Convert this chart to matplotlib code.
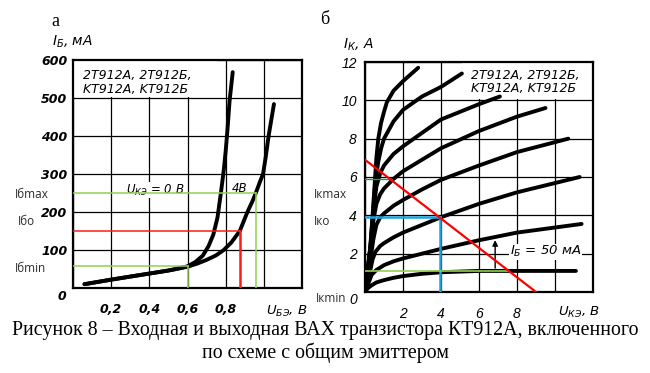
import numpy as np
import matplotlib
matplotlib.use('Agg')
import matplotlib.pyplot as plt
from matplotlib.patches import Rectangle

plt.rcParams['mathtext.fontset'] = 'custom'
plt.rcParams['mathtext.rm'] = 'DejaVu Sans:italic'
plt.rcParams['mathtext.it'] = 'DejaVu Sans:italic'
plt.rcParams['mathtext.bf'] = 'DejaVu Sans:italic:bold'

# --- входная характеристика (а): I_Б, мА от U_БЭ, В
u_be_0 = [0.06, 0.2, 0.3, 0.4, 0.5, 0.55, 0.6, 0.64, 0.68, 0.71, 0.735, 0.757, 0.775, 0.79, 0.8, 0.81, 0.82, 0.837]
i_b_0 = [10, 22, 30, 38, 46, 51, 57, 68, 85, 110, 140, 185, 250, 310, 360, 420, 490, 568]
u_be_4 = [0.06, 0.2, 0.3, 0.4, 0.5, 0.6, 0.65, 0.7, 0.75, 0.79, 0.83, 0.874, 0.914, 0.94, 0.958, 0.98,
          0.996, 1.01, 1.025, 1.04, 1.053]
i_b_4 = [10, 22, 30, 38, 46, 56, 64, 74, 86, 100, 120, 150, 200, 228, 250, 280, 300, 345, 400, 445, 484]

# рабочая точка и границы на входной ВАХ
ib_max, ib_0, ib_min = 250, 150, 57
ube_max, ube_0, ube_min = 0.958, 0.874, 0.6

# --- выходные характеристики (б): I_К, А от U_КЭ, В
out_u = [
    [0, 0.15, 0.35, 0.6, 1, 1.5, 2, 3, 4, 6, 11.1],
    [0, 0.2, 0.35, 0.6, 1, 1.5, 2, 3, 4, 6, 8, 11.4],
    [0, 0.25, 0.4, 0.55, 0.8, 1, 1.5, 2, 3, 4, 6, 8, 11.3],
    [0, 0.3, 0.45, 0.6, 0.8, 1, 1.5, 2, 3, 4, 6, 8, 10.7],
    [0, 0.3, 0.45, 0.6, 0.8, 1, 1.5, 2, 3, 4, 6, 8, 9.5],
    [0, 0.3, 0.45, 0.6, 0.8, 1, 1.5, 2, 3, 4, 5, 6, 7.1],
    [0, 0.3, 0.45, 0.55, 0.7, 0.85, 1, 1.5, 2, 3, 4, 5.1],
    [0, 0.25, 0.4, 0.5, 0.6, 0.7, 0.84, 1.0, 1.15, 1.5, 2, 2.8],
]
out_i = [
    [0, 0.2, 0.35, 0.5, 0.62, 0.74, 0.83, 0.95, 1.03, 1.1, 1.1],
    [0, 0.5, 0.9, 1.15, 1.4, 1.6, 1.75, 2.0, 2.25, 2.7, 3.1, 3.55],
    [0, 1.0, 1.7, 2.1, 2.4, 2.55, 2.85, 3.1, 3.5, 3.9, 4.6, 5.2, 6.0],
    [0, 1.8, 2.8, 3.5, 3.9, 4.1, 4.5, 4.8, 5.35, 5.85, 6.6, 7.3, 8.0],
    [0, 2.2, 3.8, 4.6, 5.1, 5.4, 5.9, 6.3, 6.9, 7.5, 8.4, 9.15, 9.6],
    [0, 2.5, 4.3, 5.5, 6.2, 6.6, 7.2, 7.6, 8.3, 9.0, 9.4, 9.8, 10.2],
    [0, 2.5, 4.5, 5.8, 6.8, 7.5, 8.0, 8.9, 9.5, 10.2, 10.7, 11.4],
    [0, 2.0, 4.0, 5.5, 7.0, 8.0, 8.8, 9.4, 9.9, 10.5, 11.0, 11.7],
]

# нагрузочная прямая и рабочая точка
load_u = [0, 9.0]
load_i = [6.9, 0]
uk_0, ik_0 = 3.95, 3.9
ik_max, uk_at_max = 5.9, 1.4
ik_min, uk_at_min = 1.1, 7.5

fig = plt.figure(figsize=(6.5, 3.73), dpi=100)
W, H = 650, 373


def rect(x0, y0, x1, y1):
    return [x0 / W, 1 - y1 / H, (x1 - x0) / W, (y1 - y0) / H]


tick_font = dict(family='DejaVu Sans', style='italic', weight='bold', size=9)
note_font = dict(family='Open Sans', size=8.5, color='#2b2b2b')
box_font = dict(family='DejaVu Sans', style='italic', size=9)

# ================= а =================
ax1 = fig.add_axes(rect(73, 60, 302, 288))
ax1.set_xlim(0, 1.2)
ax1.set_ylim(0, 600)
ax1.set_xticks([0, 0.2, 0.4, 0.6, 0.8, 1.0, 1.2])
ax1.set_yticks([0, 100, 200, 300, 400, 500, 600])
ax1.set_xticklabels(['', '0,2', '0,4', '0,6', '0,8', '', ''], fontdict=tick_font)
ax1.set_yticklabels(['', '100', '200', '300', '400', '500', '600'], fontdict=tick_font)
ax1.tick_params(length=0)
ax1.tick_params(axis='x', pad=11)
ax1.tick_params(axis='y', pad=4)
ax1.grid(True, color='black', lw=0.9)
ax1.set_axisbelow(True)
for s in ax1.spines.values():
    s.set_linewidth(1.6)

ax1.add_patch(Rectangle((0.004, 503), 0.75, 95, facecolor='white', edgecolor='none', zorder=1))
ax1.text(0.05, 575, '2T912A, 2T912Б,\nKT912A, KT912Б', fontdict=box_font,
         va='top', ha='left', linespacing=1.05, zorder=2)

ax1.plot(u_be_0, i_b_0, color='black', lw=2.8, solid_capstyle='round', zorder=3)
ax1.plot(u_be_4, i_b_4, color='black', lw=2.8, solid_capstyle='round', zorder=3)

ax1.text(0.43, 258, r'$U_{КЭ}$ = 0 В', fontdict=dict(family='DejaVu Sans', style='italic', size=8.5),
         ha='center', va='center', zorder=2,
         bbox=dict(facecolor='white', edgecolor='none', pad=0.5))
ax1.text(0.875, 262, '4В', fontdict=dict(family='DejaVu Sans', style='italic', size=8.5),
         ha='center', va='center', zorder=2)

green_l = '#92d050'
ax1.plot([0, ube_max], [ib_max, ib_max], color=green_l, lw=1.1, zorder=4)
ax1.plot([ube_max, ube_max], [0, ib_max], color=green_l, lw=1.1, zorder=4)
ax1.plot([0, ube_min], [ib_min, ib_min], color=green_l, lw=1.1, zorder=4)
ax1.plot([ube_min, ube_min], [0, ib_min], color=green_l, lw=1.1, zorder=4)
ax1.plot([0, ube_0], [ib_0, ib_0], color='#ff1a1a', lw=1.1, zorder=4)
ax1.plot([ube_0, ube_0], [0, ib_0], color='#ff1a1a', lw=1.8, zorder=4)

# ================= б =================
ax2 = fig.add_axes(rect(365, 62, 593, 292))
ax2.set_xlim(0, 12)
ax2.set_ylim(0, 12)
ax2.set_xticks([0, 2, 4, 6, 8, 10, 12])
ax2.set_yticks([0, 2, 4, 6, 8, 10, 12])
tick_font2 = dict(family='Liberation Sans', style='italic', size=10)
ax2.set_xticklabels(['', '2', '4', '6', '8', '', ''], fontdict=tick_font2)
ax2.set_yticklabels(['', '2', '4', '6', '8', '10', '12'], fontdict=tick_font2)
ax2.tick_params(length=0)
ax2.tick_params(axis='x', pad=11)
ax2.tick_params(axis='y', pad=6)
ax2.grid(True, color='black', lw=0.9)
ax2.set_axisbelow(True)
for s in ax2.spines.values():
    s.set_linewidth(1.6)

ax2.add_patch(Rectangle((5.1, 10.05), 6.85, 1.9, facecolor='white', edgecolor='none', zorder=1))
ax2.text(5.6, 11.65, '2T912A, 2T912Б,\nKT912A, KT912Б', fontdict=box_font,
         va='top', ha='left', linespacing=1.05, zorder=2)

for uu, ii in zip(out_u, out_i):
    ax2.plot(uu, ii, color='black', lw=2.8, solid_capstyle='round', zorder=3)

ax2.plot(load_u, load_i, color='#ff0000', lw=1.6, zorder=5)
blue = '#1aa3e0'
ax2.plot([0, uk_0], [ik_0, ik_0], color=blue, lw=1.8, zorder=4)
ax2.plot([uk_0, uk_0], [0, ik_0], color=blue, lw=1.8, zorder=4)
ax2.plot([0, uk_at_max], [ik_max, ik_max], color='#1e9e3e', lw=1.0, zorder=4)
ax2.plot([0, uk_at_min], [ik_min, ik_min], color=green_l, lw=1.2, zorder=4)

ax2.annotate('', xy=(6.85, 2.85), xytext=(6.85, 1.1),
             arrowprops=dict(arrowstyle='-|>', color='black', lw=1.0, mutation_scale=8), zorder=4)
ax2.text(9.5, 2.1, r'$I_{Б}$ = 50 мА', fontdict=dict(family='DejaVu Sans', style='italic', size=9.5),
         ha='center', va='center', zorder=2, bbox=dict(facecolor='white', edgecolor='none', pad=0.5))

# ================= подписи =================
lab_font = dict(family='DejaVu Sans', style='italic', size=10)
fig.text(52 / W, 1 - 42 / H, r'$I_{Б}$, мА', fontdict=lab_font, va='center', ha='left')
fig.text(343 / W, 1 - 45 / H, r'$I_{К}$, А', fontdict=lab_font, va='center', ha='left')
fig.text(266 / W, 1 - 311 / H, r'$U_{БЭ}$, В', fontdict=dict(family='DejaVu Sans', style='italic', size=9.5), va='center', ha='left')
fig.text(558 / W, 1 - 312 / H, r'$U_{КЭ}$, В', fontdict=dict(family='DejaVu Sans', style='italic', size=9.5), va='center', ha='left')
fig.text(62 / W, 1 - 296 / H, '0', fontdict=tick_font, va='center', ha='center')
fig.text(353 / W, 1 - 300 / H, '0', fontdict=tick_font2, va='center', ha='center')

fig.text(55 / W, 1 - 21 / H, 'а', family='Liberation Serif', size=13, va='center', ha='center')
fig.text(325 / W, 1 - 20 / H, 'б', family='Liberation Serif', size=13, va='center', ha='center')

fig.text(15 / W, 1 - 194 / H, 'Iбmax', fontdict=note_font, va='center', ha='left')
fig.text(18 / W, 1 - 222 / H, 'Iбо', fontdict=note_font, va='center', ha='left')
fig.text(15 / W, 1 - 269 / H, 'Iбmin', fontdict=note_font, va='center', ha='left')
fig.text(314 / W, 1 - 195 / H, 'Iкmax', fontdict=note_font, va='center', ha='left')
fig.text(314 / W, 1 - 222 / H, 'Iко', fontdict=note_font, va='center', ha='left')
fig.text(316 / W, 1 - 299 / H, 'Iкmin', fontdict=note_font, va='center', ha='left')

fig.text(0.5, 1 - 330 / H, 'Рисунок 8 – Входная и выходная ВАХ транзистора КТ912А, включенного',
         family='Liberation Serif', size=14.3, ha='center', va='center')
fig.text(0.5, 1 - 353 / H, 'по схеме с общим эмиттером',
         family='Liberation Serif', size=14.3, ha='center', va='center')

fig.savefig('out.png', dpi=100)
